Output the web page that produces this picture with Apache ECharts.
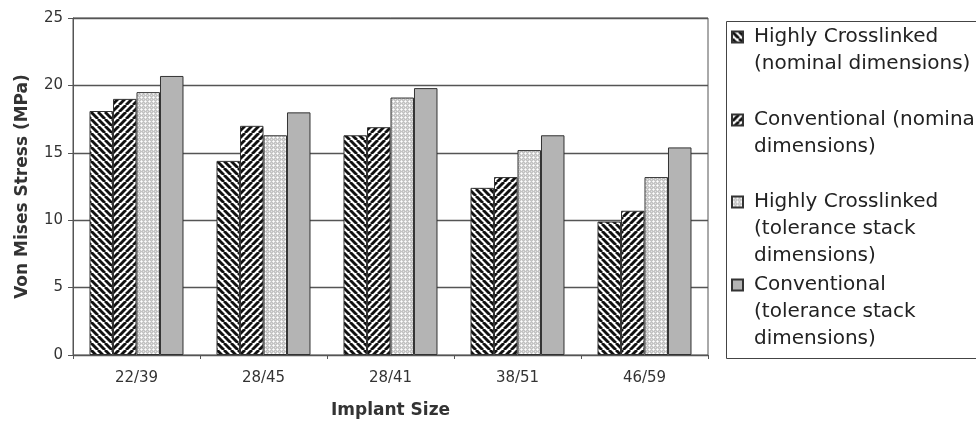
<!DOCTYPE html>
<html>
<head>
<meta charset="utf-8">
<script src="https://cdn.jsdelivr.net/npm/echarts@6/dist/echarts.min.js"></script>
<style>
html,body{margin:0;padding:0;background:#fff;}
#chart{width:976px;height:424px;}
</style>
</head>
<body>
<div id="chart"></div>
<script>
// ---- data ----
const categories = ['22/39', '28/45', '28/41', '38/51', '46/59'];
const seriesNames = [
  'Highly Crosslinked\n(nominal dimensions)',
  'Conventional (nominal\ndimensions)',
  'Highly Crosslinked\n(tolerance stack\ndimensions)',
  'Conventional\n(tolerance stack\ndimensions)'
];
const hxlNominal    = [18.1, 14.4, 16.3, 12.4, 9.9];
const convNominal   = [19.0, 17.0, 16.9, 13.2, 10.7];
const hxlTolerance  = [19.5, 16.3, 19.1, 15.2, 13.2];
const convTolerance = [20.7, 18.0, 19.8, 16.3, 15.4];
const yTicks = [0, 5, 10, 15, 20, 25];

// ---- fill patterns ----
function stripePattern(dir) {
  const s = 7;
  const c = document.createElement('canvas');
  c.width = s; c.height = s;
  const g = c.getContext('2d');
  g.fillStyle = '#fff';
  g.fillRect(0, 0, s, s);
  g.strokeStyle = '#111';
  g.lineWidth = 2.9;
  for (let k = -1; k <= 1; k++) {
    g.beginPath();
    if (dir === 'back') {
      g.moveTo(k * s, 0); g.lineTo(k * s + s, s);
    } else {
      g.moveTo(k * s, s); g.lineTo(k * s + s, 0);
    }
    g.stroke();
  }
  return { image: c, repeat: 'repeat' };
}
function dotPattern() {
  const c = document.createElement('canvas');
  c.width = 4; c.height = 4;
  const g = c.getContext('2d');
  g.fillStyle = '#c4c4c4';
  g.fillRect(0, 0, 4, 4);
  g.fillStyle = '#eeeeee';
  g.fillRect(0, 1, 3, 1);
  g.fillRect(1, 0, 1, 3);
  g.fillStyle = '#ffffff';
  g.fillRect(1, 1, 1, 1);
  g.fillStyle = '#e2e2e2';
  g.fillRect(3, 3, 1, 1);
  return { image: c, repeat: 'repeat' };
}

const fills = [stripePattern('back'), stripePattern('fwd'), dotPattern(), '#b4b4b4'];
const values = [hxlNominal, convNominal, hxlTolerance, convTolerance];

const FONT = 'DejaVu Sans';
const LINE_H = 27;
// first-line centres of the legend entries
const legendFirstLineY = [37, 120, 202, 285];

const legends = seriesNames.map((name, i) => {
  const n = name.split('\n').length;
  const padTop = LINE_H * (n - 1);
  const boxH = padTop + LINE_H * n;
  return {
    orient: 'vertical',
    left: 731,
    top: legendFirstLineY[i] - boxH / 2,
    padding: 0,
    itemWidth: 11, itemHeight: 11,
    icon: 'rect',
    data: [name],
    formatter: function (nm) {
      return nm.split('\n').map(function (l) { return '{t|' + l + '}'; }).join('\n');
    },
    textStyle: {
      fontFamily: FONT, fontSize: 20, color: '#222',
      lineHeight: LINE_H, padding: [padTop, 0, 0, 6],
      rich: {
        t: { fontFamily: FONT, fontSize: 20, color: '#222', lineHeight: LINE_H }
      }
    }
  };
});

const chart = echarts.init(document.getElementById('chart'), null, { renderer: 'canvas' });
chart.setOption({
  animation: false,
  backgroundColor: '#fff',
  textStyle: { fontFamily: FONT },
  grid: {
    left: 73, right: 268, top: 18, bottom: 69,
    show: true, borderColor: '#555', borderWidth: 1, backgroundColor: 'transparent'
  },
  graphic: [{
    type: 'rect',
    left: 724, top: 19,
    shape: { width: 300, height: 337 },
    style: { fill: 'none', stroke: '#444', lineWidth: 1 },
    silent: true
  }],
  legend: legends,
  xAxis: {
    type: 'category',
    data: categories,
    name: 'Implant Size',
    nameLocation: 'middle',
    nameGap: 47,
    nameTextStyle: { fontFamily: FONT, fontSize: 17, fontWeight: 'bold', color: '#333' },
    axisLine: { lineStyle: { color: '#555', width: 1 } },
    axisTick: { show: true, alignWithLabel: false, length: 4, lineStyle: { color: '#555' } },
    axisLabel: { fontFamily: FONT, fontSize: 15, color: '#333', margin: 16 }
  },
  yAxis: {
    type: 'value',
    min: yTicks[0], max: yTicks[yTicks.length - 1], interval: 5,
    name: 'Von Mises Stress (MPa)',
    nameLocation: 'middle',
    nameGap: 42,
    nameRotate: 90,
    nameTextStyle: { fontFamily: FONT, fontSize: 17, fontWeight: 'bold', color: '#333' },
    axisLine: { show: true, lineStyle: { color: '#555', width: 1 } },
    axisTick: { show: true, length: 5, lineStyle: { color: '#555' } },
    axisLabel: { fontFamily: FONT, fontSize: 15, color: '#333', margin: 10 },
    splitLine: { show: true, lineStyle: { color: '#555', width: 1.3 } }
  },
  series: seriesNames.map((name, i) => ({
    name: name,
    type: 'bar',
    data: values[i],
    barGap: '0%',
    barCategoryGap: '26%',
    itemStyle: { color: fills[i], borderColor: '#333', borderWidth: 1 }
  }))
});
</script>
</body>
</html>
